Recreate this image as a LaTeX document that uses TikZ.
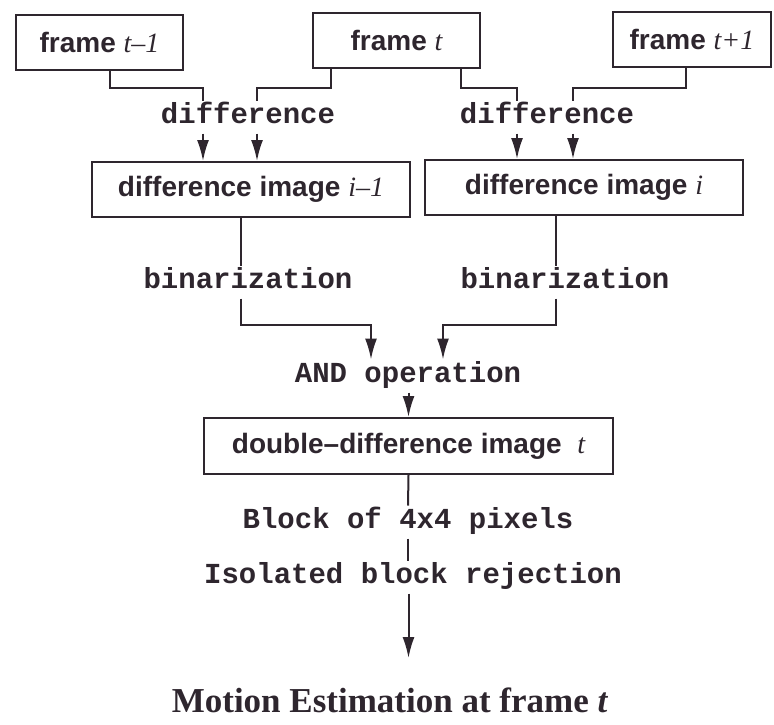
\documentclass[tikz,border=0pt]{standalone}
\usepackage{fontspec}
\setmainfont{Liberation Serif}
\setsansfont{Liberation Sans}
\setmonofont{Liberation Mono}
\usetikzlibrary{arrows.meta}
\definecolor{inkgray}{rgb}{0.18,0.15,0.18}
\newcommand{\mvar}[1]{{\rmfamily\mdseries\itshape #1}}

\begin{document}
\begin{tikzpicture}[x=1pt,y=-1pt,inkgray,line width=2pt,
  framebox/.style={draw,minimum height=55pt,inner sep=0pt,
    font=\fontsize{28}{32}\selectfont\sffamily\bfseries},
  oplabel/.style={inner sep=4pt,text height=18pt,text depth=5pt,
    font=\fontsize{29}{32}\selectfont\ttfamily\bfseries},
  flow/.style={-{Latex[length=21pt,width=12pt]}}]
\useasboundingbox (0,0) rectangle (774,724);

% frames and images
\node[framebox,minimum width=167pt] (ft1) at (99.5,42.5) {frame \mvar{t–1}};
\node[framebox,minimum width=167pt] (ft) at (396.5,40.5) {frame \mvar{t}};
\node[framebox,minimum width=158pt] (ft2) at (692,39) {frame \mvar{t+1}};
\node[framebox,minimum width=318pt] (di1) at (251,189.5) {difference image \mvar{i–1}};
\node[framebox,minimum width=318pt] (di) at (584,187.5) {difference image \mvar{i}};
\node[framebox,minimum width=409pt,minimum height=56pt] (dd) at (408.5,446) {double–difference image \ \mvar{t}};

% operations
\node[oplabel] (difL) at (248,117) {difference};
\node[oplabel] (difR) at (547,117) {difference};
\node[oplabel] (binL) at (248,282) {binarization};
\node[oplabel] (binR) at (565,282) {binarization};
\node[oplabel] (andop) at (408,376) {AND operation};
\node[oplabel] (blk) at (408,522) {Block of 4x4 pixels};
\node[oplabel] (iso) at (413,577) {Isolated block rejection};
\node[font=\fontsize{35}{40}\selectfont\bfseries,inner sep=0pt] (mest) at (390,700) {Motion Estimation at frame \textit{t}};

% bends
\coordinate (oA) at ([xshift=10.5pt]ft1.south);
\coordinate (oB) at ([xshift=-65.5pt]ft.south);
\coordinate (oC) at ([xshift=64.5pt]ft.south);
\coordinate (oD) at ([xshift=-6pt]ft2.south);
\coordinate (jA) at (203,88);
\coordinate (jB) at (257,88);
\coordinate (jC) at (517,88);
\coordinate (jD) at (573,88);
\coordinate (oL) at ([xshift=-10pt]di1.south);
\coordinate (oR) at ([xshift=-28pt]di.south);
\coordinate (jL) at (371,325);
\coordinate (jR) at (443,325);
\coordinate (tipE) at (408.5,658);

% difference
\draw (oA) |- (jA) -- (jA |- difL.north);
\draw (oB) |- (jB) -- (jB |- difL.north);
\draw[flow] (jA |- difL.south) -- (jA |- di1.north);
\draw[flow] (jB |- difL.south) -- (jB |- di1.north);
\draw (oC) |- (jC) -- (jC |- difR.north);
\draw (oD) |- (jD) -- (jD |- difR.north);
\draw[flow] (jC |- difR.south) -- (jC |- di.north);
\draw[flow] (jD |- difR.south) -- (jD |- di.north);

% binarization and AND
\draw (oL) -- (oL |- binL.north);
\draw[flow] (oL |- binL.south) |- (jL) -- (jL |- andop.north);
\draw (oR) -- (oR |- binR.north);
\draw[flow] (oR |- binR.south) |- (jR) -- (jR |- andop.north);
\draw[flow] (andop.south -| dd.north) -- (dd.north);

% blocks
\draw (dd.south) -- (blk.north);
\draw (blk.south) -- (blk.south |- iso.north);
\draw[flow] (iso.south -| dd.south) -- (tipE);
\end{tikzpicture}
\end{document}
